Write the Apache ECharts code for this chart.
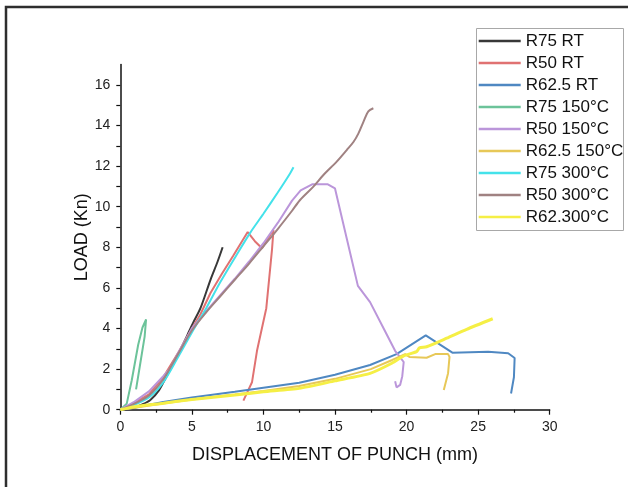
<!DOCTYPE html>
<html>
<head>
<meta charset="utf-8">
<script src="https://cdn.jsdelivr.net/npm/echarts@6/dist/echarts.min.js"></script>
<style>
  html, body { margin: 0; padding: 0; background: #fff; }
  #chart { width: 628px; height: 487px; }
</style>
</head>
<body>
<div id="chart"></div>
<script>
// series names, as in the legend
var names = ['R75 RT', 'R50 RT', 'R62.5 RT', 'R75 150°C', 'R50 150°C',
             'R62.5 150°C', 'R75 300°C', 'R50 300°C', 'R62.300°C']
var colors = ['#383838', '#e07272', '#4f88c2', '#6cc39a', '#bb96da',
              '#e7c858', '#44e2ea', '#a08282', '#f5ef45']

// [displacement (mm), load (kN)]
var r75RT = [[0,0],[1,0.12],[1.5,0.25],[2.1,0.48],[2.7,0.95],[3.2,1.6],[3.7,2.25],[4.2,2.95],
  [4.7,3.7],[5.1,4.3],[5.6,5.0],[6.3,6.4],[6.8,7.3],[7.15,8.0]]
var r50RT = [[0,0],[1,0.35],[2,0.75],[3,1.6],[4,2.75],[5,4.0],[5.6,4.7],[6.3,5.75],[7.1,6.7],
  [7.9,7.6],[8.9,8.75],[9.4,8.3],[9.9,7.95],[10.7,8.85],[10.6,7.9],[10.2,5.0],[9.55,2.9],
  [9.2,1.35],[8.6,0.45]]
var r625RT = [[0,0],[1,0.1],[2,0.25],[3,0.38],[5,0.6],[8,0.88],[10,1.08],[12.5,1.33],[15,1.72],
  [17.45,2.2],[19.3,2.74],[21.34,3.66],[23.2,2.81],[25.7,2.86],[27.1,2.78],[27.55,2.55],
  [27.5,1.6],[27.3,0.8]]
var r75_150 = [[0,0],[0.45,0.3],[0.8,1.45],[1.25,3.2],[1.55,4.05],[1.8,4.45],[1.7,3.6],
  [1.4,2.3],[1.1,1.0]]
var r50_150 = [[0,0],[1,0.4],[2,0.9],[3,1.65],[3.5,2.05],[4,2.75],[4.6,3.5],[5,4.0],[6,4.85],
  [7,5.65],[8,6.45],[9,7.3],[10,8.2],[11,9.2],[12,10.3],[12.6,10.8],[13.4,11.1],[14.5,11.1],
  [15,10.9],[15.8,8.5],[16.6,6.1],[17.45,5.3],[18.4,4.0],[19.2,2.9],[19.8,2.35],[19.7,1.65],
  [19.55,1.22],[19.3,1.1],[19.2,1.4]]
var r625_150 = [[0,0],[1,0.1],[3,0.3],[5,0.5],[8,0.75],[10,0.92],[12.5,1.17],[15,1.52],
  [17.5,2.0],[19,2.45],[19.9,2.74],[20.2,2.6],[21.4,2.56],[22.0,2.74],[22.9,2.74],[23.0,2.6],
  [22.9,1.8],[22.6,0.97]]
var r75_300 = [[0,0],[1,0.25],[2,0.6],[3,1.35],[4,2.55],[5,3.8],[6,5.0],[7,6.3],[8.1,7.6],
  [9.06,8.7],[10,9.65],[11,10.7],[11.86,11.64],[12.1,11.94]]
var r50_300 = [[0,0],[1,0.3],[2,0.7],[3,1.5],[4,2.7],[5,3.9],[6,4.8],[7,5.6],[8,6.4],[9,7.2],
  [10,8.05],[11,8.9],[12,9.8],[12.56,10.33],[13.49,10.99],[14.19,11.56],[15.12,12.22],
  [15.82,12.79],[16.3,13.2],[16.63,13.6],[17.0,14.2],[17.33,14.7],[17.68,14.85]]
var r62_300 = [[0,0],[1,0.15],[3,0.32],[5,0.5],[8,0.72],[10,0.88],[12.5,1.05],[15,1.42],
  [17.45,1.79],[19,2.3],[19.8,2.65],[20.7,2.86],[20.9,3.05],[21.4,3.1],[22.8,3.52],
  [24.2,3.96],[26.02,4.48]]

var allData = [r75RT, r50RT, r625RT, r75_150, r50_150, r625_150, r75_300, r50_300, r62_300]
// curves without sharp reversals get a light smoothing
var smoothing = [0.3, 0, 0, 0, 0, 0, 0.3, 0.3, 0.2]

// axis ticks / labels
var yLabels = [0, 2, 4, 6, 8, 10, 12, 14, 16]
var yTicks = [0, 1, 2, 3, 4, 5, 6, 7, 8, 9, 10, 11, 12, 13, 14, 15, 16]

var font = 'Liberation Sans, Arial, sans-serif'

var series = []
for (var i = 0; i < names.length; i++) {
  series.push({
    name: names[i],
    type: 'line',
    data: allData[i],
    showSymbol: false,
    symbol: 'none',
    smooth: smoothing[i] || false,
    color: colors[i],
    lineStyle: { width: names[i] === 'R62.300°C' ? 3 : 2, color: colors[i] },
    emphasis: { disabled: true }
  })
}

var chart = echarts.init(document.getElementById('chart'))
chart.setOption({
  animation: false,
  backgroundColor: '#fff',
  grid: { left: 120.3, right: 78.3, top: 64.6, bottom: 77.3 },
  legend: {
    data: names,
    orient: 'vertical',
    left: 478.7,
    top: 32.5,
    padding: 0,
    itemGap: 5,
    itemWidth: 42,
    itemHeight: 2.5,
    icon: 'rect',
    textStyle: { fontFamily: font, fontSize: 17, color: '#111', lineHeight: 17, padding: [0, 0, 0, 0] }
  },
  xAxis: {
    type: 'value',
    min: 0, max: 30, interval: 5,
    name: 'DISPLACEMENT OF PUNCH (mm)',
    nameLocation: 'middle',
    nameGap: 36,
    nameMoveOverlap: false,
    nameTextStyle: { fontFamily: font, fontSize: 18, color: '#111' },
    axisLine: { lineStyle: { color: '#111', width: 1.5 } },
    axisTick: { inside: false, length: 5, lineStyle: { color: '#111', width: 1.2 } },
    minorTick: { show: true, splitNumber: 2, length: 3, lineStyle: { color: '#111', width: 1.2 } },
    axisLabel: { fontFamily: font, fontSize: 14, color: '#222', margin: 10 },
    splitLine: { show: false }
  },
  yAxis: {
    type: 'value',
    min: 0, max: 17, interval: 1,
    name: 'LOAD (Kn)',
    nameLocation: 'middle',
    nameGap: 29,
    nameMoveOverlap: false,
    nameTextStyle: { fontFamily: font, fontSize: 18, color: '#111' },
    axisLine: { show: true, lineStyle: { color: '#111', width: 1.5 } },
    axisTick: { show: true, inside: false, length: 4, customValues: yTicks, lineStyle: { color: '#111', width: 1.2 } },
    axisLabel: { fontFamily: font, fontSize: 14, color: '#222', margin: 10, customValues: yLabels },
    splitLine: { show: false }
  },
  graphic: [
    { type: 'rect', shape: { x: 6, y: 7, width: 700, height: 600 },
      style: { fill: 'none', stroke: '#2e2e2e', lineWidth: 2.5 }, silent: true },
    { type: 'rect', shape: { x: 476.5, y: 28.5, width: 147, height: 202 },
      style: { fill: 'none', stroke: '#a8a8a8', lineWidth: 1 }, silent: true }
  ],
  series: series
})
</script>
</body>
</html>
